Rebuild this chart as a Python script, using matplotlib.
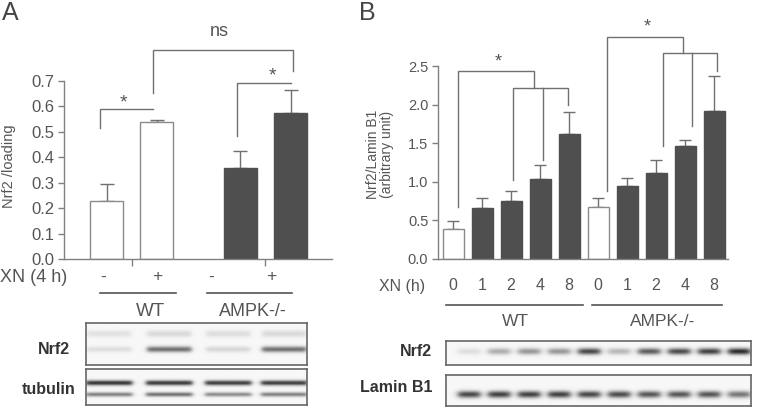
import numpy as np
import matplotlib
matplotlib.use('Agg')
import matplotlib.pyplot as plt
import matplotlib.transforms as mtransforms

plt.rcParams['font.family'] = ['Liberation Sans', 'DejaVu Sans']

# ---- Panel A data ----
a_pos = [0.85, 1.85, 3.52, 4.53]
a_vals = [0.228, 0.540, 0.358, 0.573]
a_err = [0.295, 0.547, 0.426, 0.666]   # top of error bar
a_fill = ['white', 'white', '#4f4f4f', '#4f4f4f']
a_signs = ['-', '+', '-', '+']
a_sign_x = [0.78, 1.86, 2.94, 4.14]
a_groups = ['WT', 'AMPK-/-']

# ---- Panel B data ----
b_time = ['0', '1', '2', '4', '8', '0', '1', '2', '4', '8']
b_vals = [0.384, 0.665, 0.747, 1.040, 1.623, 0.678, 0.941, 1.114, 1.468, 1.917]
b_err = [0.497, 0.786, 0.885, 1.222, 1.908, 0.790, 1.045, 1.287, 1.537, 2.375]
b_fill = ['white', '#4f4f4f', '#4f4f4f', '#4f4f4f', '#4f4f4f',
          'white', '#4f4f4f', '#4f4f4f', '#4f4f4f', '#4f4f4f']
b_pos = [i + 0.52 for i in range(len(b_vals))]

# blot band intensities (0 = none, 1 = black)
a_nrf2_band = [0.12, 0.62, 0.15, 0.62]
a_nrf2_bg = [0.10, 0.14, 0.12, 0.14]
a_tub_upper = [0.90, 0.88, 0.86, 0.86]
a_tub_lower = [0.55, 0.62, 0.50, 0.55]
b_nrf2_band = [0.12, 0.35, 0.45, 0.45, 0.82, 0.30, 0.72, 0.80, 0.85, 0.95]
b_lamin_band = [0.82, 0.85, 0.85, 0.85, 0.82, 0.80, 0.75, 0.75, 0.75, 0.60]

TXT = '#555555'
AX = '#808080'
BR = '#707070'

W, H = 766, 416
fig = plt.figure(figsize=(7.66, 4.16), dpi=100)


def fbox(x0, y0, x1, y1):
    # pixel box (top-left origin) -> figure rect
    return [x0 / W, 1 - y1 / H, (x1 - x0) / W, (y1 - y0) / H]


def fy(py):
    return 1 - py / H


def style_axes(ax, size):
    for s in ['top', 'right']:
        ax.spines[s].set_visible(False)
    for s in ['left', 'bottom']:
        ax.spines[s].set_color(AX)
        ax.spines[s].set_linewidth(1.0)
    ax.tick_params(axis='y', colors=AX, labelcolor=TXT, labelsize=size,
                   length=4, width=1, direction='out', pad=3)


def bracket(ax, pts):
    ax.plot([p[0] for p in pts], [p[1] for p in pts], color=BR, lw=1.0,
            clip_on=False, solid_joinstyle='miter')


def draw_blot(rect, lane_x, rows, lane_hw):
    bax = fig.add_axes(rect)
    h, w = 80, 600
    yy, xx = np.mgrid[0:h, 0:w]
    yy = yy / h
    xx = xx / w
    dark = np.zeros((h, w))
    for ry, rsig, intens in rows:
        for cx, v in zip(lane_x, intens):
            lane = 1 / (1 + np.exp((np.abs(xx - cx) - lane_hw) / 0.006))
            dark += v * lane * np.exp(-((yy - ry) / rsig) ** 2)
    img = 0.97 - 0.85 * np.clip(dark, 0, 1)
    bax.imshow(img, cmap='gray', vmin=0, vmax=1, aspect='auto',
               extent=[0, 1, 1, 0], interpolation='bilinear')
    bax.set_xticks([])
    bax.set_yticks([])
    for s in bax.spines.values():
        s.set_color('#666666')
        s.set_linewidth(1.2)
    return bax


# ================= Panel A =================
axA = fig.add_axes(fbox(64, 81, 332, 259))
style_axes(axA, 12)
axA.bar(a_pos, a_vals, width=0.66, color=a_fill, edgecolor=['#8a8a8a', '#8a8a8a', '#4f4f4f', '#4f4f4f'],
        linewidth=1.0, zorder=2)
axA.errorbar(a_pos, a_vals, yerr=[np.zeros(4), np.array(a_err) - np.array(a_vals)],
             fmt='none', ecolor='#707070', elinewidth=1, capsize=5, capthick=1, zorder=1)
axA.set_xlim(0, 5.36)
axA.set_ylim(0, 0.7)
axA.set_yticks(np.arange(0, 0.71, 0.1))
axA.set_yticklabels(['%.1f' % v for v in np.arange(0, 0.71, 0.1)])
axA.set_xticks([(a_pos[0] + a_pos[1]) / 2, (a_pos[2] + a_pos[3]) / 2])
axA.tick_params(axis='x', colors=AX, length=5, width=1, labelbottom=False)
fig.text(9.5 / W, fy(166), 'Nrf2 /loading', rotation=90, ha='center', va='center',
         color=TXT, fontsize=10.5)

# significance brackets
bracket(axA, [(0.71, 0.515), (0.71, 0.590), (1.77, 0.590)])
bracket(axA, [(1.77, 0.654), (1.77, 0.822), (4.57, 0.822), (4.57, 0.739)])
bracket(axA, [(3.45, 0.485), (3.45, 0.691), (4.54, 0.691)])
axA.text(1.18, 0.615, '*', ha='center', va='center', color=TXT, fontsize=14)
axA.text(3.10, 0.893, 'ns', ha='center', va='center', color=TXT, fontsize=13)
axA.text(4.17, 0.718, '*', ha='center', va='center', color=TXT, fontsize=14)

trA = mtransforms.blended_transform_factory(axA.transData, fig.transFigure)
fig.text(0.5 / W, fy(277), 'XN (4 h)', ha='left', va='center', color=TXT, fontsize=13)
for x, s in zip(a_sign_x, a_signs):
    axA.text(x, fy(277), s, transform=trA, ha='center', va='center', color=TXT, fontsize=12.5)
axA.plot([0.72, 2.24], [fy(293), fy(293)], transform=trA, color='#555555', lw=1.2, clip_on=False)
axA.plot([2.86, 4.56], [fy(293), fy(293)], transform=trA, color='#555555', lw=1.2, clip_on=False)
axA.text(1.72, fy(312), a_groups[0], transform=trA, ha='center', va='center', color=TXT, fontsize=13.5)
axA.text(3.78, fy(312), a_groups[1], transform=trA, ha='center', va='center', color=TXT, fontsize=13)
fig.text(2 / W, fy(19.5), 'A', ha='left', va='baseline', color='#444444', fontsize=18)

# blots A
a_lanes = [0.104, 0.376, 0.643, 0.896]
draw_blot(fbox(86, 323, 307, 365), a_lanes,
          [(0.25, 0.08, a_nrf2_bg), (0.62, 0.07, a_nrf2_band)], 0.10)
draw_blot(fbox(86, 369, 307, 405), a_lanes,
          [(0.38, 0.07, a_tub_upper), (0.70, 0.06, a_tub_lower)], 0.105)
fig.text(70 / W, fy(350), 'Nrf2', ha='right', va='center', color='#333333',
         fontsize=11.5, fontweight='bold')
fig.text(75 / W, fy(389), 'tubulin', ha='right', va='center', color='#333333',
         fontsize=11.5, fontweight='bold')

# ================= Panel B =================
axB = fig.add_axes(fbox(438, 66, 728, 259))
style_axes(axB, 10.5)
b_edge = ['#8a8a8a' if c == 'white' else '#4f4f4f' for c in b_fill]
axB.bar(b_pos, b_vals, width=0.72, color=b_fill, edgecolor=b_edge, linewidth=1.0, zorder=2)
axB.errorbar(b_pos, b_vals, yerr=[np.zeros(len(b_vals)), np.array(b_err) - np.array(b_vals)],
             fmt='none', ecolor='#707070', elinewidth=1, capsize=4, capthick=1, zorder=1)
axB.set_xlim(0, 10)
axB.set_ylim(0, 2.5)
axB.set_yticks(np.arange(0, 2.51, 0.5))
axB.set_yticklabels(['%.1f' % v for v in np.arange(0, 2.51, 0.5)])
axB.set_xticks([])
fig.text(380 / W, fy(154), 'Nrf2/Lamin B1\n(arbitrary unit)', rotation=90, ha='center',
         va='center', multialignment='center', color=TXT, fontsize=10, linespacing=1.05)

# brackets B
bracket(axB, [(0.68, 0.677), (0.68, 2.44), (3.32, 2.44), (3.32, 2.22)])
bracket(axB, [(b_pos[2] + 0.08, 1.023), (b_pos[2] + 0.08, 2.22),
              (b_pos[4] - 0.03, 2.22), (b_pos[4] - 0.03, 1.995)])
bracket(axB, [(b_pos[3] + 0.11, 1.282), (b_pos[3] + 0.11, 2.22)])
bracket(axB, [(5.82, 0.881), (5.82, 2.88), (8.46, 2.88), (8.46, 2.665)])
bracket(axB, [(b_pos[7] + 0.23, 1.468), (b_pos[7] + 0.23, 2.665),
              (b_pos[9] + 0.11, 2.665), (b_pos[9] + 0.11, 2.439)])
bracket(axB, [(b_pos[8] + 0.24, 1.723), (b_pos[8] + 0.24, 2.665)])
axB.text(2.08, 2.55, '*', ha='center', va='center', color=TXT, fontsize=13)
axB.text(7.20, 3.00, '*', ha='center', va='center', color=TXT, fontsize=13)

trB = mtransforms.blended_transform_factory(axB.transData, fig.transFigure)
axB.text(-0.45, fy(286), 'XN (h)', transform=trB, ha='right', va='center', color=TXT, fontsize=11.5)
for x, s in zip(b_pos, b_time):
    axB.text(x, fy(286), s, transform=trB, ha='center', va='center', color=TXT, fontsize=11.5)
axB.plot([0.28, 5.01], [fy(305), fy(305)], transform=trB, color='#555555', lw=1.2, clip_on=False)
axB.plot([5.30, 9.78], [fy(305), fy(305)], transform=trB, color='#555555', lw=1.2, clip_on=False)
axB.text(2.66, fy(322), 'WT', transform=trB, ha='center', va='center', color=TXT, fontsize=12.5)
axB.text(7.76, fy(322), 'AMPK-/-', transform=trB, ha='center', va='center', color=TXT, fontsize=12.5)
fig.text(359 / W, fy(19.5), 'B', ha='left', va='baseline', color='#444444', fontsize=18)

# blots B
b_lanes = [(469 + 30 * i - 446) / 305 for i in range(10)]
draw_blot(fbox(446, 341, 751, 365), b_lanes, [(0.45, 0.13, b_nrf2_band)], 0.036)
draw_blot(fbox(446, 375, 751, 406), b_lanes, [(0.62, 0.11, b_lamin_band)], 0.036)
fig.text(432 / W, fy(352), 'Nrf2', ha='right', va='center', color='#333333',
         fontsize=11.5, fontweight='bold')
fig.text(432 / W, fy(388), 'Lamin B1', ha='right', va='center', color='#333333',
         fontsize=11.5, fontweight='bold')

fig.savefig('out.png', dpi=100, facecolor='white')
